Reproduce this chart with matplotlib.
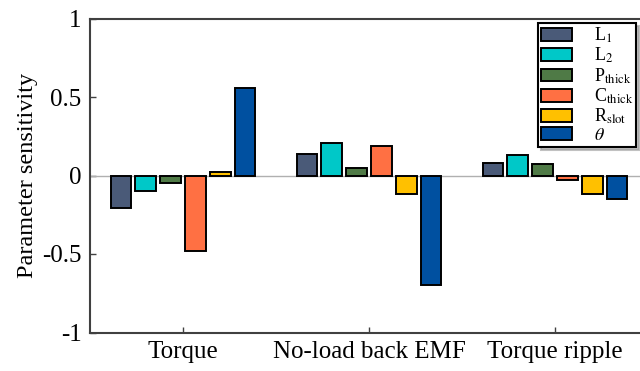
import numpy as np
import matplotlib
matplotlib.use("Agg")
from matplotlib import pyplot as plt

plt.rcParams['font.family'] = ['Liberation Serif', 'DejaVu Serif']
plt.rcParams['mathtext.fontset'] = 'stix'

categories = ['Torque', 'No-load back EMF', 'Torque ripple']
params = [r'L$_{1}$', r'L$_{2}$', r'P$_{\mathrm{thick}}$', r'C$_{\mathrm{thick}}$',
          r'R$_{\mathrm{slot}}$', r'$\theta$']
colors = ['#4a5a78', '#00c8c8', '#4f7a46', '#ff7043', '#ffc000', '#0050a0']

# sensitivity of each parameter for each objective
L1 = [-0.21, 0.138, 0.08]
L2 = [-0.10, 0.21, 0.132]
P_thick = [-0.05, 0.048, 0.071]
C_thick = [-0.48, 0.19, -0.03]
R_slot = [0.023, -0.115, -0.12]
theta = [0.558, -0.70, -0.15]
series = [L1, L2, P_thick, C_thick, R_slot, theta]

fig = plt.figure(figsize=(6.4, 3.71), dpi=100)
ax = fig.add_axes([90/640, 38.5/371, 558/640, 314/371])

x = np.arange(1, len(categories) + 1)
step = 0.8 / len(series)
for i, vals in enumerate(series):
    off = (i - (len(series) - 1) / 2) * step
    ax.bar(x + off, vals, width=0.112, color=colors[i], edgecolor='black',
           linewidth=1.4, label=params[i], zorder=3)

ax.axhline(0, color='#b0b0b0', linewidth=1.0, zorder=2)
ax.set_xlim(0.5, 3.5)
ax.set_ylim(-1, 1)
ax.set_xticks(x)
ax.set_xticklabels(categories, fontsize=18)
ax.set_yticks([-1, -0.5, 0, 0.5, 1])
ax.set_yticklabels(['-1', '-0.5', '0', '0.5', '1'], fontsize=18)
ax.tick_params(direction='in', length=4, width=1, colors='#404040', pad=6)
for lab in ax.get_xticklabels() + ax.get_yticklabels():
    lab.set_color('black')
ax.set_ylabel('Parameter sensitivity', fontsize=17.5, labelpad=3)
for s in ['left', 'bottom', 'top']:
    ax.spines[s].set_color('#404040')
    ax.spines[s].set_linewidth(1.5)
ax.spines['right'].set_visible(False)

leg = ax.legend(loc='upper left', bbox_to_anchor=(538/640, 1 - 23/371),
                bbox_transform=fig.transFigure, fontsize=13, frameon=True,
                fancybox=False, shadow={'color': '#999999', 'alpha': 0.6},
                handlelength=1.75, handleheight=0.72,
                labelspacing=0.05, borderpad=0.15, handletextpad=1.2,
                borderaxespad=0)
leg.get_frame().set_edgecolor('black')
leg.get_frame().set_linewidth(1.5)

fig.savefig('out.png', dpi=100)
